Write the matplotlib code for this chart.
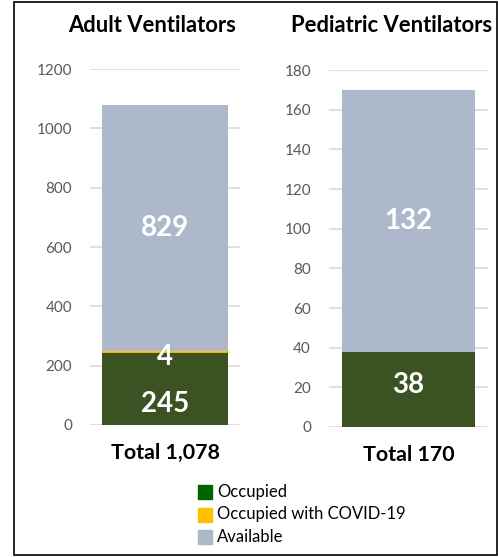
import matplotlib
matplotlib.use("Agg")
import matplotlib.pyplot as plt
from matplotlib.patches import Rectangle

plt.rcParams['font.family'] = ['Lato', 'DejaVu Sans']

# data
titles = ["Adult Ventilators", "Pediatric Ventilators"]
occupied = [245, 38]
occupied_covid = [4, 0]
available = [829, 132]
totals = ["Total 1,078", "Total 170"]
ylims = [1200, 180]
yticks = [list(range(0, 1201, 200)), list(range(0, 181, 20))]
legend_labels = ["Occupied", "Occupied with COVID-19", "Available"]

c_occ = "#3B5323"
c_occ_leg = "#006400"
c_covid = "#FFC000"
c_avail = "#ADB9CA"
c_grid = "#D9D9D9"

W, H = 498, 557
fig = plt.figure(figsize=(W / 100, H / 100), dpi=100)
rects = [[0.1807, 0.2370, 0.3012, 0.6391], [0.6606, 0.2334, 0.3193, 0.6409]]
title_x = [152 / W, 392 / W]

for i in range(2):
    ax = fig.add_axes(rects[i])
    ax.bar([0], [occupied[i]], width=0.84, color=c_occ)
    if occupied_covid[i] > 0:
        ax.bar([0], [occupied_covid[i]], width=0.84, bottom=[occupied[i]], color=c_covid,
               edgecolor=c_covid, linewidth=0.6)
    ax.bar([0], [available[i]], width=0.84,
           bottom=[occupied[i] + occupied_covid[i]], color=c_avail)
    ax.set_xlim(-0.5, 0.5)
    ax.set_ylim(0, ylims[i])
    ax.set_yticks(yticks[i])
    ax.yaxis.grid(True, color=c_grid, linewidth=1.2)
    ax.set_axisbelow(True)
    for s in ax.spines.values():
        s.set_visible(False)
    ax.tick_params(axis="y", length=0, labelsize=11, labelcolor="#595959", pad=13)
    ax.set_xticks([0])
    ax.set_xticklabels([totals[i]], fontsize=15.4, fontweight="bold")
    ax.tick_params(axis="x", length=0, pad=13, labelcolor="black")
    fig.text(title_x[i], 1 - 32 / H, titles[i], ha="center", va="baseline",
             fontsize=15.8, fontweight="bold")

    lab = dict(ha="center", va="center", color="white", fontsize=20, fontweight="bold",
               textcoords="offset points")
    base = occupied[i] + occupied_covid[i]
    if occupied_covid[i] > 0:
        ax.annotate(str(occupied[i]), (0, occupied[i] / 2), xytext=(0, -11), **lab)
        ax.annotate(str(occupied_covid[i]), (0, occupied[i] + occupied_covid[i] / 2),
                    xytext=(0, -4), **lab)
    else:
        ax.annotate(str(occupied[i]), (0, occupied[i] / 2), xytext=(0, 3), **lab)
    ax.annotate(str(available[i]), (0, base + available[i] / 2), xytext=(0, 0), **lab)

# legend
leg_colors = [c_occ_leg, c_covid, c_avail]
for k, (lbl, col) in enumerate(zip(legend_labels, leg_colors)):
    yc = 492 + k * 22.5
    fig.patches.append(Rectangle((198 / W, 1 - (yc + 7) / H), 14 / W, 14 / H,
                                 transform=fig.transFigure, color=col))
    fig.text(217 / W, 1 - yc / H, lbl, ha="left", va="center", fontsize=12)

fig.patches.append(Rectangle((14 / W, 2 / H), 483 / W, 553 / H,
                             transform=fig.transFigure, fill=False,
                             edgecolor="black", linewidth=1.2))

fig.savefig("out.png", dpi=100)
